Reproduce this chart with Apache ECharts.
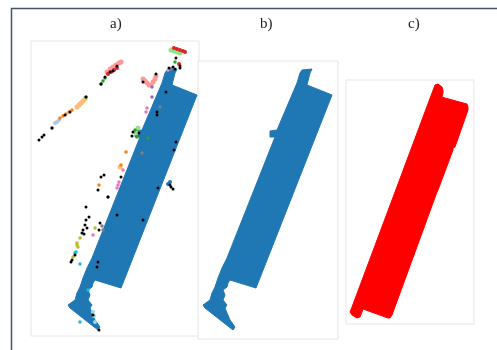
<!DOCTYPE html>
<html><head><meta charset="utf-8">
<script src="https://cdn.jsdelivr.net/npm/echarts@6/dist/echarts.min.js"></script>
<style>html,body{margin:0;padding:0;background:#fff}#c{width:497px;height:350px}</style>
</head><body><div id="c"></div>
<script>
// Panel titles
const panelTitles = ['a)', 'b)', 'c)'];

// Outline of the segmented point cloud (panels a and b), local units [x, y]
const cloudOutline = [
  [136,266],[146,267],[144,263],[141,251],[166,241],[164,236],[90,48],[64,56],
  [62,53],[61,49],[57,46],[59,41],[57,36],[61,31],[59,28],[61,23],[64,16],[69,9],
  [67,6],[39,28],[37,31],[44,36],[46,43],[49,49],[52,58],[56,68],[61,78],
  [109,199],[104,199],[104,205],[111,206],[131,253],[134,263]
];

// Outline of the reference footprint (panel c), local units [x, y]
const footprintOutline = [
  [133,247],[136,248],[140,245],[141,242],[141,239],[140,235],[143,234],[165,228],
  [166,225],[166,222],[153,185],[151,184],[151,182],[136,142],[135,140],[90,17],
  [88,14],[86,14],[61,23],[60,20],[58,15],[55,14],[50,17],[48,20],[50,25]
];

// Panel a: clustered points (other clusters), local units [x, y]
const ptsBlack = [[145,278],[149,270],[142,269],[149,268],[138,268],[144,267],[125,262],[112,254],
  [135,244],[126,224],[126,221],[145,194],[143,186],[101,200],[102,204],[108,203],[79,264],[82,265],
  [86,270],[74,259],[70,252],[55,239],[39,224],[34,221],[21,208],[13,201],[11,199],[8,196],
  [139,151],[142,147],[140,149],[127,148],[73,161],[70,159],[90,159],[67,146],[77,139],[55,129],
  [58,119],[55,116],[54,111],[52,106],[51,103],[56,108],[53,102],[69,113],[68,106],[41,76],[40,74],
  [44,81],[86,121],[112,116],[67,74],[66,69],[62,21],[68,6]];
const ptsRed = [[143,288],[146,287],[149,286],[152,285],[154,284],[148,272],[77,262],[80,264],[83,266],[86,268]];
const ptsLightGreen = [[140,286],[143,285],[146,284],[149,283],[107,208],[105,203]];
const ptsGreen = [[144,274],[104,206],[106,199],[117,198],[70,252],[72,255],[74,258],[55,239]];
const ptsSalmon = [[112,257],[114,255],[116,253],[118,251],[120,251],[122,254],[124,257],[125,260],
  [76,264],[79,267],[82,269],[85,271],[88,273],[90,274]];
const ptsOrange = [[29,218],[32,220],[35,222],[38,224],[41,226],[95,184],[90,171],[68,151]];
const ptsLightOrange = [[46,229],[48,231],[50,233],[52,235],[54,237],[89,169]];
const ptsLightBlue = [[24,213],[26,214],[28,216]];
const ptsPurple = [[140,267],[121,239],[121,249],[21,208],[77,139]];
const ptsLightPurple = [[137,266],[84,267]];
const ptsGrey = [[129,229],[111,183],[71,110],[72,106]];
const ptsPink = [[116,228],[115,224],[88,154],[87,151],[86,148],[92,166],[62,101]];
const ptsOlive = [[64,108],[49,98],[46,93],[47,89],[46,91],[42,79]];
const ptsCyan = [[44,83],[45,84],[49,72],[49,14],[57,46]];
const ptsLightCyan = [[62,24],[64,14],[63,20]];
const ptsBlue = [[137,152],[139,154]];

const chart = echarts.init(document.getElementById('c'), null, {renderer: 'canvas'});

function polySeries(gridIdx, outline, color) {
  return {
    type: 'custom', xAxisIndex: gridIdx, yAxisIndex: gridIdx, silent: true,
    data: [outline[0]],
    renderItem: function (params, api) {
      const pts = outline.map(p => api.coord(p));
      return {type: 'polygon', shape: {points: pts}, style: {fill: color, stroke: color, lineWidth: 1}};
    }
  };
}
function scat(data, color, size) {
  return {type: 'scatter', xAxisIndex: 0, yAxisIndex: 0, data: data, symbolSize: size,
    silent: true, itemStyle: {color: color, opacity: 1}};
}

const gridStyle = {show: true, borderColor: '#e6e6e6', borderWidth: 1, backgroundColor: '#fff'};
const hiddenAxis = {show: false, splitLine: {show: false}};

chart.setOption({
  animation: false,
  backgroundColor: '#fff',
  graphic: [{type: 'rect', z: 100, shape: {x: 11.5, y: 8.5, width: 600, height: 500},
    style: {fill: 'none', stroke: '#44546a', lineWidth: 1.5}}],
  title: panelTitles.map((t, i) => ({
    text: t, left: [110, 260, 408][i], top: 17, padding: 0,
    textStyle: {fontFamily: 'Liberation Serif', fontSize: 15, fontWeight: 'normal', color: '#222'}
  })),
  grid: [
    Object.assign({left: 31, top: 41, width: 168, height: 295}, gridStyle),
    Object.assign({left: 198, top: 61, width: 140, height: 278}, gridStyle),
    Object.assign({left: 346, top: 80, width: 128, height: 244}, gridStyle)
  ],
  xAxis: [
    Object.assign({type: 'value', gridIndex: 0, min: 0, max: 168}, hiddenAxis),
    Object.assign({type: 'value', gridIndex: 1, min: 32, max: 172}, hiddenAxis),
    Object.assign({type: 'value', gridIndex: 2, min: 44, max: 172}, hiddenAxis)
  ],
  yAxis: [
    Object.assign({type: 'value', gridIndex: 0, min: 0, max: 295}, hiddenAxis),
    Object.assign({type: 'value', gridIndex: 1, min: -3, max: 275}, hiddenAxis),
    Object.assign({type: 'value', gridIndex: 2, min: 8, max: 252}, hiddenAxis)
  ],
  series: [
    polySeries(0, cloudOutline, '#1f77b4'),
    polySeries(1, cloudOutline, '#1f77b4'),
    polySeries(2, footprintOutline, '#ff0000'),
    scat(ptsSalmon, '#ff9896', 5),
    scat(ptsLightGreen, '#98df8a', 5),
    scat(ptsLightOrange, '#ffbb78', 5),
    scat(ptsLightBlue, '#aec7e8', 4),
    scat(ptsLightPurple, '#c5b0d5', 3.5),
    scat(ptsLightCyan, '#9edae5', 4),
    scat(ptsBlue, '#1f77b4', 4),
    scat(ptsRed, '#d62728', 4),
    scat(ptsGreen, '#2ca02c', 3.5),
    scat(ptsOrange, '#ff7f0e', 3.5),
    scat(ptsPurple, '#9467bd', 3.5),
    scat(ptsGrey, '#7f7f7f', 3.5),
    scat(ptsPink, '#e377c2', 3.5),
    scat(ptsOlive, '#bcbd22', 3.5),
    scat(ptsCyan, '#17becf', 3.5),
    scat(ptsBlack, '#000000', 3)
  ]
});
</script></body></html>
